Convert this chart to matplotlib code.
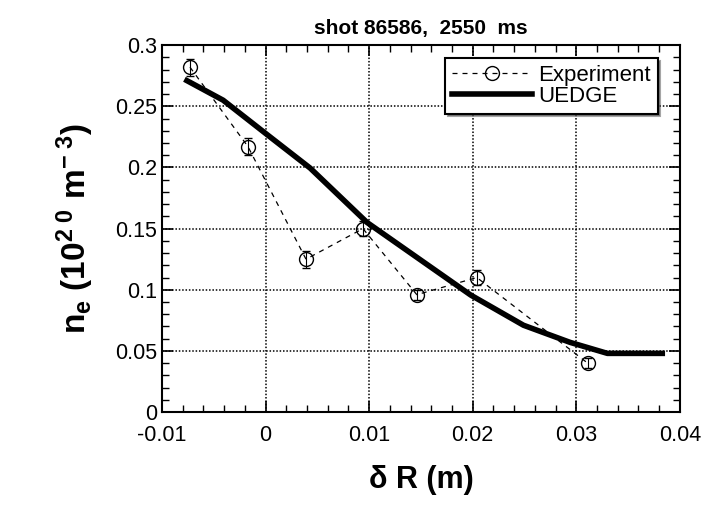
import matplotlib
matplotlib.use("Agg")
import matplotlib.pyplot as plt
from matplotlib.ticker import MultipleLocator

plt.rcParams['font.family'] = ['Liberation Sans', 'DejaVu Sans']
plt.rcParams['mathtext.fontset'] = 'custom'
plt.rcParams['mathtext.rm'] = 'Liberation Sans'
plt.rcParams['mathtext.bf'] = 'Liberation Sans:bold'
plt.rcParams['mathtext.it'] = 'Liberation Sans:italic'

# experiment points
exp_x = [-0.0073, -0.0017, 0.0039, 0.0094, 0.0146, 0.0204, 0.0311]
exp_y = [0.282, 0.217, 0.125, 0.150, 0.096, 0.110, 0.040]
exp_err = [0.007, 0.007, 0.007, 0.006, 0.004, 0.006, 0.004]

# UEDGE simulation
uedge_x = [-0.0076, -0.0041, 0.0002, 0.0043, 0.0098, 0.0198,
           0.0249, 0.0294, 0.0330, 0.0383]
uedge_y = [0.271, 0.255, 0.2265, 0.1995, 0.155, 0.0957,
           0.071, 0.057, 0.048, 0.048]

xticks = [-0.01, 0, 0.01, 0.02, 0.03, 0.04]
xticklabels = ['-0.01', '0', '0.01', '0.02', '0.03', '0.04']
yticks = [0, 0.05, 0.1, 0.15, 0.2, 0.25, 0.3]
yticklabels = ['0', '0.05', '0.1', '0.15', '0.2', '0.25', '0.3']

fig = plt.figure(figsize=(7.06, 5.19), dpi=100)
ax = fig.add_axes([0.2295, 0.206, 0.7335, 0.707])

ax.errorbar(exp_x, exp_y, yerr=exp_err, fmt='none', ecolor='black',
            capsize=3, elinewidth=0.8)
ax.plot(exp_x, exp_y, ls=(0, (4, 4)), color='black', lw=0.9, marker='o',
        mfc='none', mec='black', ms=10, mew=1.0, label='Experiment')
ax.plot(uedge_x, uedge_y, color='black', lw=4, label='UEDGE')

ax.set_xlim(-0.01, 0.04)
ax.set_ylim(0, 0.3)
ax.set_xticks(xticks)
ax.set_xticklabels(xticklabels)
ax.set_yticks(yticks)
ax.set_yticklabels(yticklabels)
ax.xaxis.set_minor_locator(MultipleLocator(0.002))
ax.yaxis.set_minor_locator(MultipleLocator(0.01))
ax.tick_params(which='both', direction='in', top=True, right=True, labelsize=15.5)
ax.tick_params(which='major', length=8, width=1.2)
ax.tick_params(which='minor', length=5, width=1)
ax.tick_params(axis='x', pad=9)
ax.grid(True, which='major', ls=(0, (1, 1.2)), color='black', lw=1.1)
for s in ax.spines.values():
    s.set_linewidth(1.5)

ax.set_title('shot 86586,  2550  ms', fontsize=15, fontweight='bold', pad=8)
ax.set_xlabel('δ R (m)', fontsize=22, fontweight='bold', labelpad=14)
ax.set_ylabel(r'n$_\mathbf{e}$ (10$^\mathbf{2\ 0}$ m$^\mathbf{-\ 3}$)',
              fontsize=24, fontweight='bold', labelpad=14)

leg = ax.legend(loc='upper right', bbox_to_anchor=(0.957, 0.964), fontsize=16,
                frameon=True, fancybox=False, shadow=True, handlelength=3.6,
                borderpad=0.3, labelspacing=0.0, handletextpad=0.3,
                borderaxespad=0)
leg.get_frame().set_edgecolor('black')
leg.get_frame().set_linewidth(1.5)
leg.set_zorder(5)

fig.savefig('out.png', dpi=100)
